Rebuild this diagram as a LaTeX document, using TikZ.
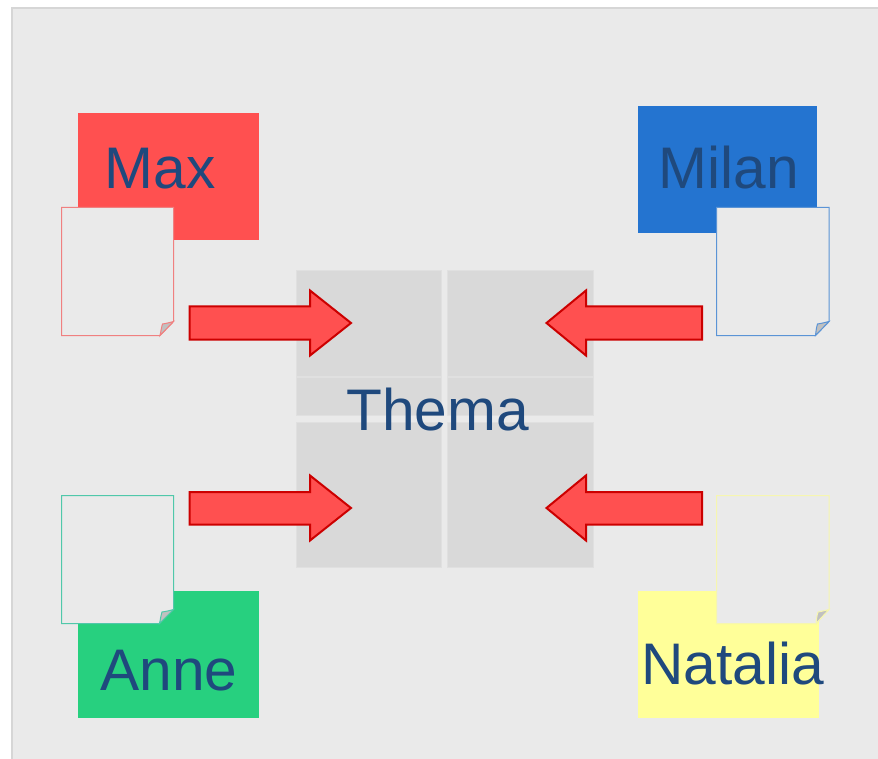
\documentclass[tikz,border=0pt]{standalone}
\usepackage{fontspec}
\setmainfont{Liberation Sans}
\usepackage{tikz}

\definecolor{namered}{RGB}{255,80,80}
\definecolor{nameblue}{RGB}{36,116,208}
\definecolor{namegreen}{RGB}{39,208,127}
\definecolor{nameyellow}{RGB}{255,255,153}
\definecolor{labelblue}{RGB}{31,73,125}

\tikzset{
  labeltext/.style={anchor=base,inner sep=0.75pt,text=labelblue,font=\fontsize{44}{53}\selectfont},
  tile/.style={fill={rgb, 255:red, 217; green, 217; blue, 217},draw={rgb, 255:red, 224; green, 224; blue, 224},line width=0.75},
  blockarrow/.style={fill=namered,draw={rgb, 255:red, 204; green, 0; blue, 0},line width=1.5},
  sheet/.style={fill={rgb, 255:red, 234; green, 234; blue, 234},line width=0.75},
  curl/.style={fill={rgb, 255:red, 192; green, 192; blue, 192},line width=0.75}
}

\begin{document}
\begin{tikzpicture}[x=0.75pt,y=0.75pt,yscale=-1,xscale=1]
\useasboundingbox (0,0) rectangle (878,759);

%Shape: Background
\draw [draw={rgb, 255:red, 214; green, 214; blue, 214},fill={rgb, 255:red, 234; green, 234; blue, 234},line width=1.5] (12,8.5) -- (890,8.5) -- (890,775) -- (12,775) -- cycle ;

%Shape: Rectangle (name fields)
\fill [namered] (78,113) -- (259,113) -- (259,240.5) -- (78,240.5) -- cycle ;
\fill [nameblue] (638,106.5) -- (817,106.5) -- (817,233.5) -- (638,233.5) -- cycle ;
\fill [namegreen] (78,590.5) -- (259,590.5) -- (259,718) -- (78,718) -- cycle ;
\fill [nameyellow] (638,590.5) -- (819,590.5) -- (819,718) -- (638,718) -- cycle ;

%Shape: Rectangle (middle tiles)
\path [tile] (296,271) -- (441,271) -- (441,376) -- (296,376) -- cycle ;
\path [tile] (447.5,271) -- (593,271) -- (593,376) -- (447.5,376) -- cycle ;
\path [tile] (296,377.5) -- (441,377.5) -- (441,415.5) -- (296,415.5) -- cycle ;
\path [tile] (447.5,377.5) -- (593,377.5) -- (593,415.5) -- (447.5,415.5) -- cycle ;
\path [tile] (296,422) -- (441,422) -- (441,567.5) -- (296,567.5) -- cycle ;
\path [tile] (447.5,422) -- (593,422) -- (593,567.5) -- (447.5,567.5) -- cycle ;

%Shape: Sheet with curled corner
\draw [sheet,draw={rgb, 255:red, 240; green, 128; blue, 128}] (61.5,207.5) -- (173.5,207.5) -- (173.5,321.5) -- (160,335.5) -- (61.5,335.5) -- cycle ;
\draw [curl,draw={rgb, 255:red, 240; green, 128; blue, 128}] (160,335.5) .. controls (161,331) and (161.5,327) .. (162.5,324) .. controls (166,323.5) and (170,322.5) .. (173.5,321.5) -- cycle ;
\draw [sheet,draw={rgb, 255:red, 91; green, 148; blue, 214}] (716.5,207.5) -- (829,207.5) -- (829,321.5) -- (815.5,335.5) -- (716.5,335.5) -- cycle ;
\draw [curl,draw={rgb, 255:red, 91; green, 148; blue, 214}] (815.5,335.5) .. controls (816,331) and (816.5,327) .. (817.5,324) .. controls (821,323.5) and (825,322.5) .. (829,321.5) -- cycle ;
\draw [sheet,draw={rgb, 255:red, 80; green, 200; blue, 170}] (61.5,495.5) -- (173.5,495.5) -- (173.5,609.5) -- (159.5,623.5) -- (61.5,623.5) -- cycle ;
\draw [curl,draw={rgb, 255:red, 80; green, 200; blue, 170}] (159.5,623.5) .. controls (160.5,619) and (161,615) .. (162,612) .. controls (166,611.5) and (170,610.5) .. (173.5,609.5) -- cycle ;
\draw [sheet,draw={rgb, 255:red, 246; green, 246; blue, 176}] (716.5,495.5) -- (829,495.5) -- (829,609.5) -- (816,623.5) -- (716.5,623.5) -- cycle ;
\draw [curl,draw={rgb, 255:red, 246; green, 246; blue, 176}] (816,623.5) .. controls (816.5,619) and (817,615) .. (818,612) .. controls (821,611.5) and (825,610.5) .. (829,609.5) -- cycle ;

%Right Arrow
\draw [blockarrow] (189.5,306.5) -- (310,306.5) -- (310,290.5) -- (351,323) -- (310,355.5) -- (310,339.5) -- (189.5,339.5) -- cycle ;
\draw [blockarrow] (189.5,492) -- (310,492) -- (310,475.5) -- (351,508) -- (310,540.5) -- (310,524.5) -- (189.5,524.5) -- cycle ;
%Left Arrow
\draw [blockarrow] (702,306.5) -- (586,306.5) -- (586,290.5) -- (546.5,323) -- (586,355.5) -- (586,339.5) -- (702,339.5) -- cycle ;
\draw [blockarrow] (702,492) -- (586,492) -- (586,475.5) -- (546.5,508) -- (586,540.5) -- (586,524.5) -- (702,524.5) -- cycle ;

% Text Node
\node (max) at (160,189) [labeltext] {Max};
% Text Node
\node (milan) at (729,189) [labeltext] {Milan};
% Text Node
\node (thema) at (437.5,430.5) [labeltext] {Thema};
% Text Node
\node (anne) at (169,690.5) [labeltext] {Anne};
% Text Node
\node (natalia) at (732.5,684.5) [labeltext] {Natalia};

\end{tikzpicture}
\end{document}
